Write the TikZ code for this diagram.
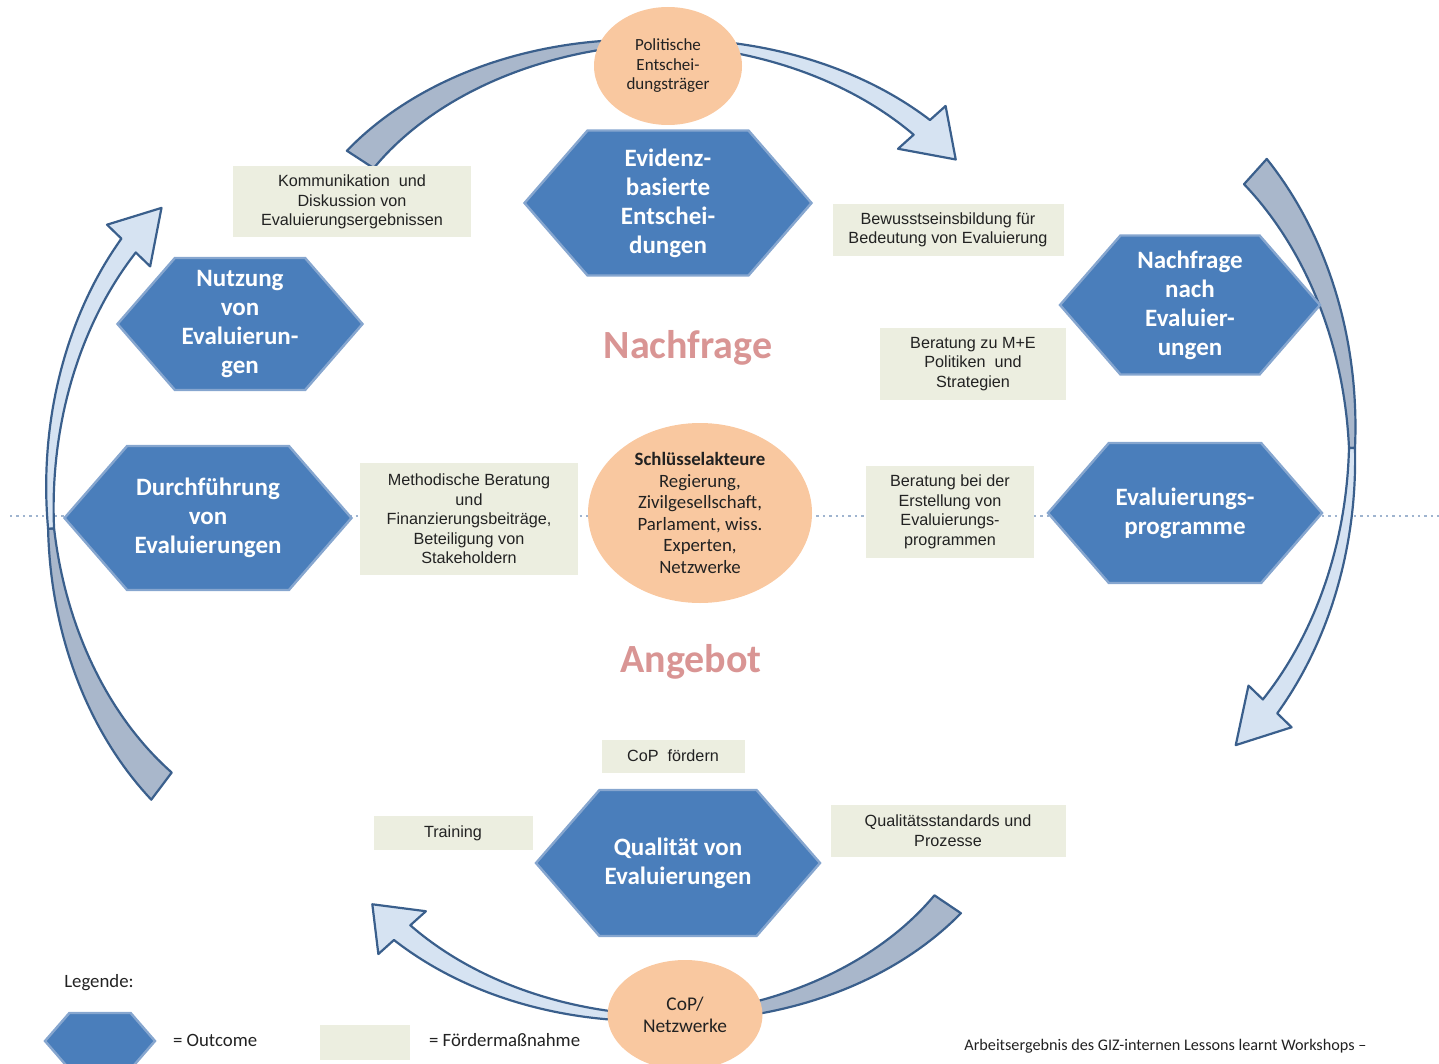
\documentclass[tikz,border=0pt]{standalone}
\usepackage{fontspec}
\setmainfont{Carlito}
\newfontfamily\arialfont{Liberation Sans}
\usetikzlibrary{shapes.geometric,shapes.symbols}

\definecolor{hexblue}{HTML}{4A7EBB}
\definecolor{hexrim}{HTML}{86A6CF}
\definecolor{boxgreen}{HTML}{ECEEE0}
\definecolor{peach}{HTML}{F9C8A0}
\definecolor{rose}{HTML}{D99594}
\definecolor{arrowline}{HTML}{3A5F8C}
\definecolor{arrowback}{HTML}{A9B7CB}
\definecolor{arrowfront}{HTML}{D6E3F2}
\definecolor{dotline}{HTML}{9FB4CF}
\definecolor{textgray}{HTML}{222222}

% ribbon along the ellipse (\arcx,\arcy,\arrx,\arry), width #3 at angle #1 to width #4 at angle #2
\newcommand{\tailband}[4]{%
  \filldraw[arrowband,fill=arrowback]
    plot[domain=#1:#2] ({\arcx+(\arrx+(#3+(#4-#3)*(\x-(#1))/((#2)-(#1)))/2)*cos(\x)},{\arcy-(\arry+(#3+(#4-#3)*(\x-(#1))/((#2)-(#1)))/2)*sin(\x)})
    -- plot[domain=#2:#1] ({\arcx+(\arrx-(#3+(#4-#3)*(\x-(#1))/((#2)-(#1)))/2)*cos(\x)},{\arcy-(\arry-(#3+(#4-#3)*(\x-(#1))/((#2)-(#1)))/2)*sin(\x)})
    -- cycle;}
% same, ending in a head of half width #5 with its tip at angle #6
\newcommand{\headband}[6]{%
  \filldraw[arrowband,fill=arrowfront]
    plot[domain=#1:#2] ({\arcx+(\arrx+(#3+(#4-#3)*(\x-(#1))/((#2)-(#1)))/2)*cos(\x)},{\arcy-(\arry+(#3+(#4-#3)*(\x-(#1))/((#2)-(#1)))/2)*sin(\x)})
    -- ({\arcx+(\arrx+#5)*cos(#2)},{\arcy-(\arry+#5)*sin(#2)})
    -- ({\arcx+\arrx*cos(#6)},{\arcy-\arry*sin(#6)})
    -- ({\arcx+(\arrx-#5)*cos(#2)},{\arcy-(\arry-#5)*sin(#2)})
    -- plot[domain=#2:#1] ({\arcx+(\arrx-(#3+(#4-#3)*(\x-(#1))/((#2)-(#1)))/2)*cos(\x)},{\arcy-(\arry-(#3+(#4-#3)*(\x-(#1))/((#2)-(#1)))/2)*sin(\x)})
    -- cycle;}

\begin{document}
\begin{tikzpicture}[x=0.5pt,y=-0.5pt,samples=40,
    outcome/.style={signal,signal to=east and west,signal pointer angle=98,fill=hexblue,draw=hexrim,line width=1.2pt,
      text=white,font=\fontsize{12.5}{14.5}\selectfont\bfseries,align=center,inner sep=0pt},
    measure/.style={rectangle,fill=boxgreen,text=textgray,font=\arialfont\fontsize{8.1}{9.8}\selectfont,align=center,inner sep=0pt},
    actor/.style={ellipse,fill=peach,text=textgray,align=center,inner sep=0pt},
    arrowband/.style={draw=arrowline,line width=1.1pt,line join=round},
    title/.style={text=rose,font=\fontsize{20}{22}\selectfont\bfseries},
    legendtext/.style={font=\fontsize{9.4}{11}\selectfont,text=textgray}]
  \useasboundingbox (0,0) rectangle (1439,1064);

  \draw[dotline,line width=1.2pt,dotted] (10,516) -- (1439,516);

  % top
  \def\arcx{658}\def\arcy{300}\def\arrx{355}\def\arry{258}
  \tailband{147}{98}{32}{8}
  \headband{82}{42}{8}{22}{32}{33}
  % right
  \def\arcx{1060}\def\arcy{448}\def\arrx{292}\def\arry{372}
  \tailband{48}{0}{34}{6}
  \headband{0}{-44}{6}{20}{30}{-53}
  % bottom
  \def\arcx{660}\def\arcy{760}\def\arrx{347}\def\arry{258}
  \tailband{-34}{-83}{32}{8}
  \headband{-97}{-138}{8}{22}{32}{-146}
  % left
  \def\arcx{330}\def\arcy{497}\def\arrx{280}\def\arry{362}
  \tailband{233}{185}{34}{6}
  \headband{185}{136}{6}{20}{30}{127}

  \node[actor,minimum width=74pt,minimum height=59pt,font=\fontsize{8.5}{9.75}\selectfont] (politik) at (668,66)
    {Politische\\Entschei-\\dungsträger};
  \node[actor,minimum width=112pt,minimum height=90pt,font=\fontsize{9.4}{10.75}\selectfont] (akteure) at (700,513)
    {\textbf{Schlüsselakteure}\\Regierung,\\Zivilgesellschaft,\\Parlament, wiss.\\Experten,\\Netzwerke};
  \node[actor,minimum width=77.5pt,minimum height=55pt,font=\fontsize{9.7}{11}\selectfont] (netzwerke) at (685,1015)
    {CoP/\\Netzwerke};

  \node[outcome,minimum width=143.5pt,minimum height=72.5pt] (evidenz) at (668,203) {Evidenz-\\basierte\\Entschei-\\dungen};
  \node[outcome,minimum width=122.5pt,minimum height=66pt] (nutzung) at (240,324) {Nutzung\\von\\Evaluierun-\\gen};
  \node[outcome,minimum width=130pt,minimum height=69.5pt] (nachfrage) at (1190,305) {Nachfrage\\nach\\Evaluier-\\ungen};
  \node[outcome,minimum width=143.5pt,minimum height=72pt] (durchf) at (208,518) {Durchführung\\von\\Evaluierungen};
  \node[outcome,minimum width=137pt,minimum height=70pt] (programme) at (1185,513) {Evaluierungs-\\programme};
  \node[outcome,minimum width=142pt,minimum height=73pt] (qualitaet) at (678,863) {Qualität von\\Evaluierungen};

  \node[measure,minimum width=119pt,minimum height=35.5pt] (kommunikation) at (352,202)
    {Kommunikation\ \ und\\Diskussion von\\Evaluierungsergebnissen};
  \node[measure,minimum width=115.5pt,minimum height=26pt] (bewusst) at (948,230)
    {Bewusstseinsbildung für\\Bedeutung von Evaluierung};
  \node[measure,minimum width=93pt,minimum height=36pt] (politiken) at (973,364)
    {Beratung zu M+E\\Politiken\ \ und\\Strategien};
  \node[measure,minimum width=109pt,minimum height=56pt] (methodik) at (469,519)
    {Methodische Beratung\\und\\Finanzierungsbeiträge,\\Beteiligung von\\Stakeholdern};
  \node[measure,minimum width=84pt,minimum height=46pt] (erstellung) at (950,512)
    {Beratung bei der\\Erstellung von\\Evaluierungs-\\programmen};
  \node[measure,minimum width=71.5pt,minimum height=16.5pt] (cop) at (673,756) {CoP\ \ fördern};
  \node[measure,minimum width=79.5pt,minimum height=17pt] (training) at (453,833) {Training};
  \node[measure,minimum width=117.5pt,minimum height=26pt] (standards) at (948,831)
    {Qualitätsstandards und\\Prozesse};

  \node[title] (nachfragetitel) at (688,348) {Nachfrage};
  \node[title] (angebottitel) at (691,662) {Angebot};

  % legend
  \node[legendtext] (legende) at (99,983) {Legende:};
  \node[outcome,minimum width=55pt,minimum height=28pt] (legendhex) at (100,1041) {};
  \node[legendtext,anchor=west] (legendout) at (166,1040) {= Outcome};
  \node[measure,minimum width=45pt,minimum height=17.5pt] (legendbox) at (365,1042) {};
  \node[legendtext,anchor=west] (legendmass) at (422,1040) {= Fördermaßnahme};
  \node[font=\fontsize{8.1}{9}\selectfont,text=textgray,anchor=west,inner sep=0pt] (quelle) at (964,1046)
    {Arbeitsergebnis des GIZ-internen Lessons learnt Workshops --};
\end{tikzpicture}
\end{document}
